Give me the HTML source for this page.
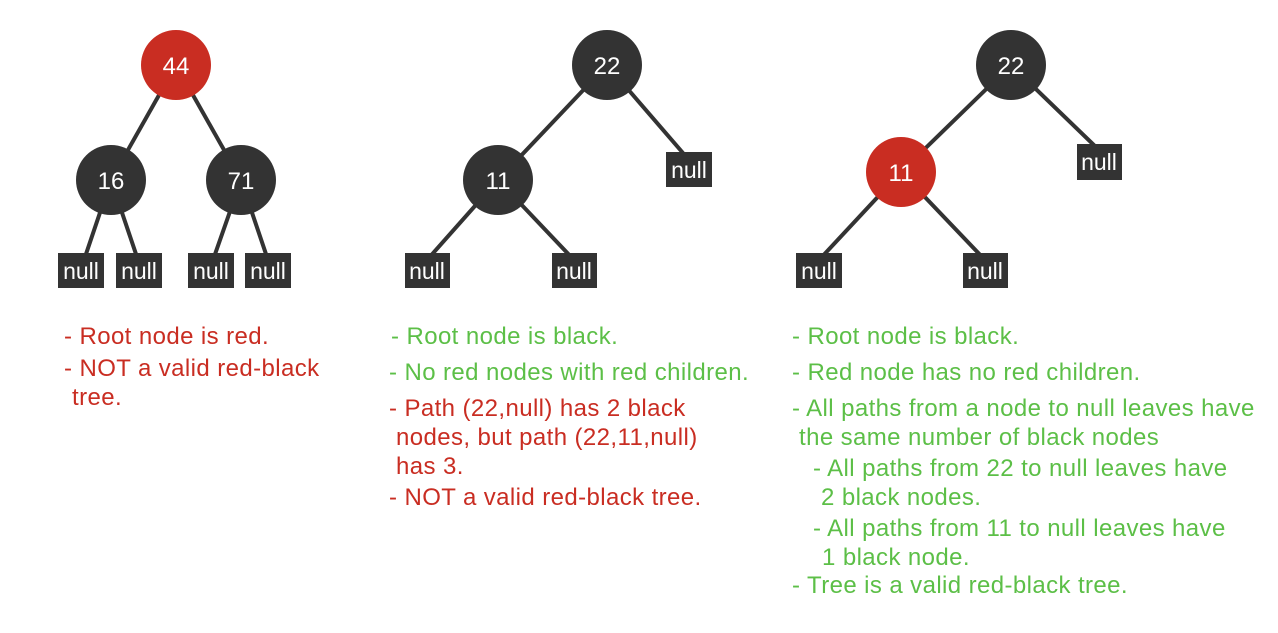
<!DOCTYPE html>
<html><head><style>body{margin:0;background:#fff}</style></head><body>
<svg width="1278" height="628" xmlns="http://www.w3.org/2000/svg" font-family="Liberation Sans, Arial, sans-serif">
<g stroke="#333" stroke-width="4">
<line x1="176" y1="65" x2="111" y2="180"/><line x1="176" y1="65" x2="241" y2="180"/>
<line x1="111" y1="180" x2="84" y2="260"/><line x1="111" y1="180" x2="138" y2="260"/>
<line x1="241" y1="180" x2="213" y2="260"/><line x1="241" y1="180" x2="268" y2="260"/>
<line x1="607" y1="65" x2="498" y2="180"/><line x1="607" y1="65" x2="689" y2="160"/>
<line x1="498" y1="180" x2="427" y2="260"/><line x1="498" y1="180" x2="574" y2="260"/>
<line x1="1011" y1="65" x2="901" y2="172"/><line x1="1011" y1="65" x2="1099" y2="150"/>
<line x1="901" y1="172" x2="819" y2="260"/><line x1="901" y1="172" x2="985" y2="260"/>
</g>
<g fill="#333">
<circle cx="111" cy="180" r="35"/><circle cx="241" cy="180" r="35"/>
<circle cx="607" cy="65" r="35"/><circle cx="498" cy="180" r="35"/>
<circle cx="1011" cy="65" r="35"/>
<rect x="58" y="253" width="46" height="35"/><rect x="116" y="253" width="46" height="35"/>
<rect x="188" y="253" width="46" height="35"/><rect x="245" y="253" width="46" height="35"/>
<rect x="666" y="152" width="46" height="35"/>
<rect x="405" y="253" width="45" height="35"/><rect x="552" y="253" width="45" height="35"/>
<rect x="1077" y="144" width="45" height="36"/>
<rect x="796" y="253" width="46" height="35"/><rect x="963" y="253" width="45" height="35"/>
</g>
<g fill="#c92d22"><circle cx="176" cy="65" r="35"/><circle cx="901" cy="172" r="35"/></g>
<g fill="#fff" font-size="24" text-anchor="middle">
<text x="176" y="74">44</text><text x="111" y="189">16</text><text x="241" y="189">71</text>
<text x="607" y="74">22</text><text x="498" y="189">11</text>
<text x="1011" y="74">22</text><text x="901" y="181">11</text>
</g>
<g fill="#fff" font-size="23" text-anchor="middle">
<text x="81" y="279">null</text><text x="139" y="279">null</text><text x="211" y="279">null</text><text x="268" y="279">null</text>
<text x="689" y="178">null</text><text x="427" y="279">null</text><text x="574" y="279">null</text>
<text x="1099" y="170">null</text><text x="819" y="279">null</text><text x="985" y="279">null</text>
</g>
<g font-size="24" letter-spacing="0.4">
<g fill="#c92d22">
<text x="64" y="344">- Root node is red.</text>
<text x="64" y="376">- NOT a valid red-black</text>
<text x="72" y="405">tree.</text>
<text x="389" y="416">- Path (22,null) has 2 black</text>
<text x="396" y="445">nodes, but path (22,11,null)</text>
<text x="396" y="474">has 3.</text>
<text x="389" y="505">- NOT a valid red-black tree.</text>
</g>
<g fill="#5cbf47">
<text x="391" y="344">- Root node is black.</text>
<text x="389" y="380">- No red nodes with red children.</text>
<text x="792" y="344">- Root node is black.</text>
<text x="792" y="380">- Red node has no red children.</text>
<text x="792" y="416">- All paths from a node to null leaves have</text>
<text x="799" y="445">the same number of black nodes</text>
<text x="813" y="476">- All paths from 22 to null leaves have</text>
<text x="821" y="505">2 black nodes.</text>
<text x="813" y="536">- All paths from 11 to null leaves have</text>
<text x="822" y="565">1 black node.</text>
<text x="792" y="593">- Tree is a valid red-black tree.</text>
</g>
</g>
</svg>
</body></html>
